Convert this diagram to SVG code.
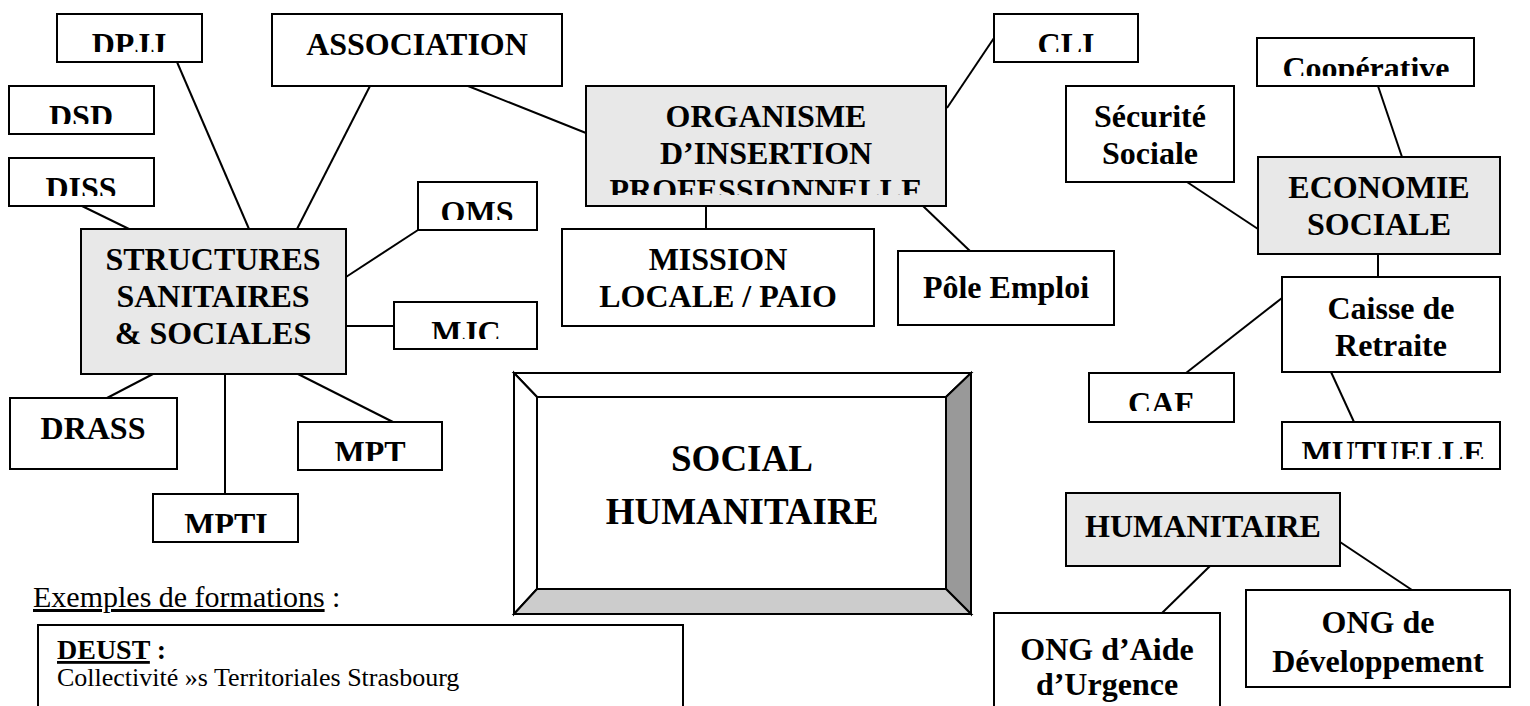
<svg xmlns="http://www.w3.org/2000/svg" width="1530" height="706" viewBox="0 0 1530 706">
<style>
.box{fill:#fff;stroke:#000;stroke-width:2}
.hub{fill:#e8e8e8;stroke:#000;stroke-width:2}
.t{font-family:"Liberation Serif","Times New Roman",serif;font-weight:bold;font-size:32px;text-anchor:middle;fill:#000}
.big{font-family:"Liberation Serif","Times New Roman",serif;font-weight:bold;font-size:37px;text-anchor:middle;fill:#000}
.conn line{stroke:#000;stroke-width:2}
.r{font-family:"Liberation Serif","Times New Roman",serif;fill:#000}
</style>
<defs>
<clipPath id="cDPJJ"><rect x="57" y="14" width="145" height="38"/></clipPath>
<clipPath id="cDSD"><rect x="9" y="86" width="145" height="38"/></clipPath>
<clipPath id="cDISS"><rect x="9" y="158" width="145" height="38"/></clipPath>
<clipPath id="cORG"><rect x="586" y="86" width="360" height="109"/></clipPath>
<clipPath id="cCLI"><rect x="994" y="14" width="144" height="38"/></clipPath>
<clipPath id="cCOOP"><rect x="1257" y="38" width="217" height="38"/></clipPath>
<clipPath id="cOMS"><rect x="418" y="182" width="119" height="38"/></clipPath>
<clipPath id="cMJC"><rect x="394" y="302" width="143" height="37"/></clipPath>
<clipPath id="cCAF"><rect x="1089" y="373" width="145" height="38"/></clipPath>
<clipPath id="cMUT"><rect x="1282" y="422" width="218" height="37"/></clipPath>
<clipPath id="cMPT"><rect x="298" y="422" width="144" height="39"/></clipPath>
<clipPath id="cMPTI"><rect x="153" y="494" width="145" height="39"/></clipPath>
</defs>
<rect width="1530" height="706" fill="#fff"/>

<g class="conn" id="connectors">
<line x1="177" y1="62" x2="249" y2="229"/>
<line x1="370" y1="86" x2="297" y2="229"/>
<line x1="468" y1="86" x2="586" y2="133"/>
<line x1="82" y1="206" x2="129" y2="229"/>
<line x1="418" y1="230" x2="346" y2="277"/>
<line x1="346" y1="326" x2="394" y2="326"/>
<line x1="153" y1="374" x2="107" y2="398"/>
<line x1="225" y1="374" x2="225" y2="494"/>
<line x1="298" y1="374" x2="393" y2="422"/>
<line x1="994" y1="38" x2="947" y2="108"/>
<line x1="706" y1="206" x2="706" y2="229"/>
<line x1="923" y1="206" x2="970" y2="251"/>
<line x1="1378" y1="86" x2="1402" y2="157"/>
<line x1="1187" y1="182" x2="1258" y2="229"/>
<line x1="1378" y1="254" x2="1378" y2="277"/>
<line x1="1282" y1="298" x2="1186" y2="373"/>
<line x1="1331" y1="372" x2="1354" y2="422"/>
<line x1="1210" y1="566" x2="1162" y2="613"/>
<line x1="1340" y1="542" x2="1412" y2="590"/>
</g>

<g id="n-dpjj"><rect class="box" x="57" y="14" width="145" height="48"/><text class="t" x="129" y="55" clip-path="url(#cDPJJ)">DPJJ</text></g>
<g id="n-association"><rect class="box" x="272" y="14" width="290" height="72"/><text class="t" x="417" y="55">ASSOCIATION</text></g>
<g id="n-dsd"><rect class="box" x="9" y="86" width="145" height="48"/><text class="t" x="81" y="127" clip-path="url(#cDSD)">DSD</text></g>
<g id="n-diss"><rect class="box" x="9" y="158" width="145" height="48"/><text class="t" x="81" y="199" clip-path="url(#cDISS)">DISS</text></g>
<g id="n-organisme"><rect class="hub" x="586" y="86" width="360" height="120"/>
<text class="t" clip-path="url(#cORG)"><tspan x="766" y="127">ORGANISME</tspan><tspan x="766" y="164">D’INSERTION</tspan><tspan x="766" y="201">PROFESSIONNELLE</tspan></text></g>
<g id="n-cli"><rect class="box" x="994" y="14" width="144" height="48"/><text class="t" x="1066" y="55" clip-path="url(#cCLI)">CLI</text></g>
<g id="n-cooperative"><rect class="box" x="1257" y="38" width="217" height="48"/><text class="t" x="1366" y="79" clip-path="url(#cCOOP)">Coopérative</text></g>
<g id="n-securite"><rect class="box" x="1066" y="86" width="168" height="96"/><text class="t"><tspan x="1150" y="127">Sécurité</tspan><tspan x="1150" y="164">Sociale</tspan></text></g>
<g id="n-economie"><rect class="hub" x="1258" y="157" width="242" height="97"/><text class="t"><tspan x="1379" y="198">ECONOMIE</tspan><tspan x="1379" y="235">SOCIALE</tspan></text></g>
<g id="n-oms"><rect class="box" x="418" y="182" width="119" height="48"/><text class="t" x="477" y="223" clip-path="url(#cOMS)">OMS</text></g>
<g id="n-structures"><rect class="hub" x="81" y="229" width="265" height="145"/><text class="t"><tspan x="213" y="270">STRUCTURES</tspan><tspan x="213" y="307">SANITAIRES</tspan><tspan x="213" y="344">&amp; SOCIALES</tspan></text></g>
<g id="n-mission"><rect class="box" x="562" y="229" width="312" height="97"/><text class="t"><tspan x="718" y="270">MISSION</tspan><tspan x="718" y="307">LOCALE / PAIO</tspan></text></g>
<g id="n-pole"><rect class="box" x="898" y="251" width="216" height="74"/><text class="t" x="1006" y="298">Pôle Emploi</text></g>
<g id="n-mjc"><rect class="box" x="394" y="302" width="143" height="47"/><text class="t" x="466" y="343" clip-path="url(#cMJC)">MJC</text></g>
<g id="n-caisse"><rect class="box" x="1282" y="277" width="218" height="95"/><text class="t"><tspan x="1391" y="319">Caisse de</tspan><tspan x="1391" y="356">Retraite</tspan></text></g>
<g id="n-caf"><rect class="box" x="1089" y="373" width="145" height="49"/><text class="t" x="1161" y="414" clip-path="url(#cCAF)">CAF</text></g>
<g id="n-mutuelle"><rect class="box" x="1282" y="422" width="218" height="47"/><text class="t" x="1393" y="463" clip-path="url(#cMUT)">MUTUELLE</text></g>
<g id="n-drass"><rect class="box" x="10" y="398" width="167" height="71"/><text class="t" x="93" y="439">DRASS</text></g>
<g id="n-mpt"><rect class="box" x="298" y="422" width="144" height="48"/><text class="t" x="370" y="463" clip-path="url(#cMPT)">MPT</text></g>
<g id="n-mpti"><rect class="box" x="153" y="494" width="145" height="48"/><text class="t" x="226" y="535" clip-path="url(#cMPTI)">MPTI</text></g>

<g id="n-social-humanitaire">
<polygon points="514,373 971,373 946,397 537,397" fill="#fff" stroke="#000" stroke-width="2"/>
<polygon points="514,373 537,397 537,589 514,614" fill="#fff" stroke="#000" stroke-width="2"/>
<polygon points="971,373 971,614 946,589 946,397" fill="#999" stroke="#000" stroke-width="2"/>
<polygon points="514,614 537,589 946,589 971,614" fill="#ccc" stroke="#000" stroke-width="2"/>
<rect x="537" y="397" width="409" height="192" fill="#fff" stroke="#000" stroke-width="2"/>
<text class="big"><tspan x="742" y="471">SOCIAL</tspan><tspan x="742" y="524">HUMANITAIRE</tspan></text>
</g>

<g id="n-humanitaire"><rect class="hub" x="1066" y="493" width="274" height="73"/><text class="t" x="1203" y="537">HUMANITAIRE</text></g>
<g id="n-ong-aide"><rect class="box" x="994" y="613" width="226" height="110"/><text class="t"><tspan x="1107" y="660">ONG d’Aide</tspan><tspan x="1107" y="695">d’Urgence</tspan></text></g>
<g id="n-ong-dev"><rect class="box" x="1246" y="590" width="264" height="97"/><text class="t"><tspan x="1378" y="633">ONG de</tspan><tspan x="1378" y="672">Développement</tspan></text></g>

<g id="examples">
<text class="r" x="33" y="607" font-size="30"><tspan text-decoration="underline">Exemples de formations</tspan> :</text>
<rect class="box" x="38" y="625" width="645" height="100"/>
<text class="r" x="57" y="659" font-size="28" font-weight="bold"><tspan text-decoration="underline">DEUST</tspan> :</text>
<text class="r" x="57" y="686" font-size="26">Collectivité »s Territoriales Strasbourg</text>
</g>
</svg>
